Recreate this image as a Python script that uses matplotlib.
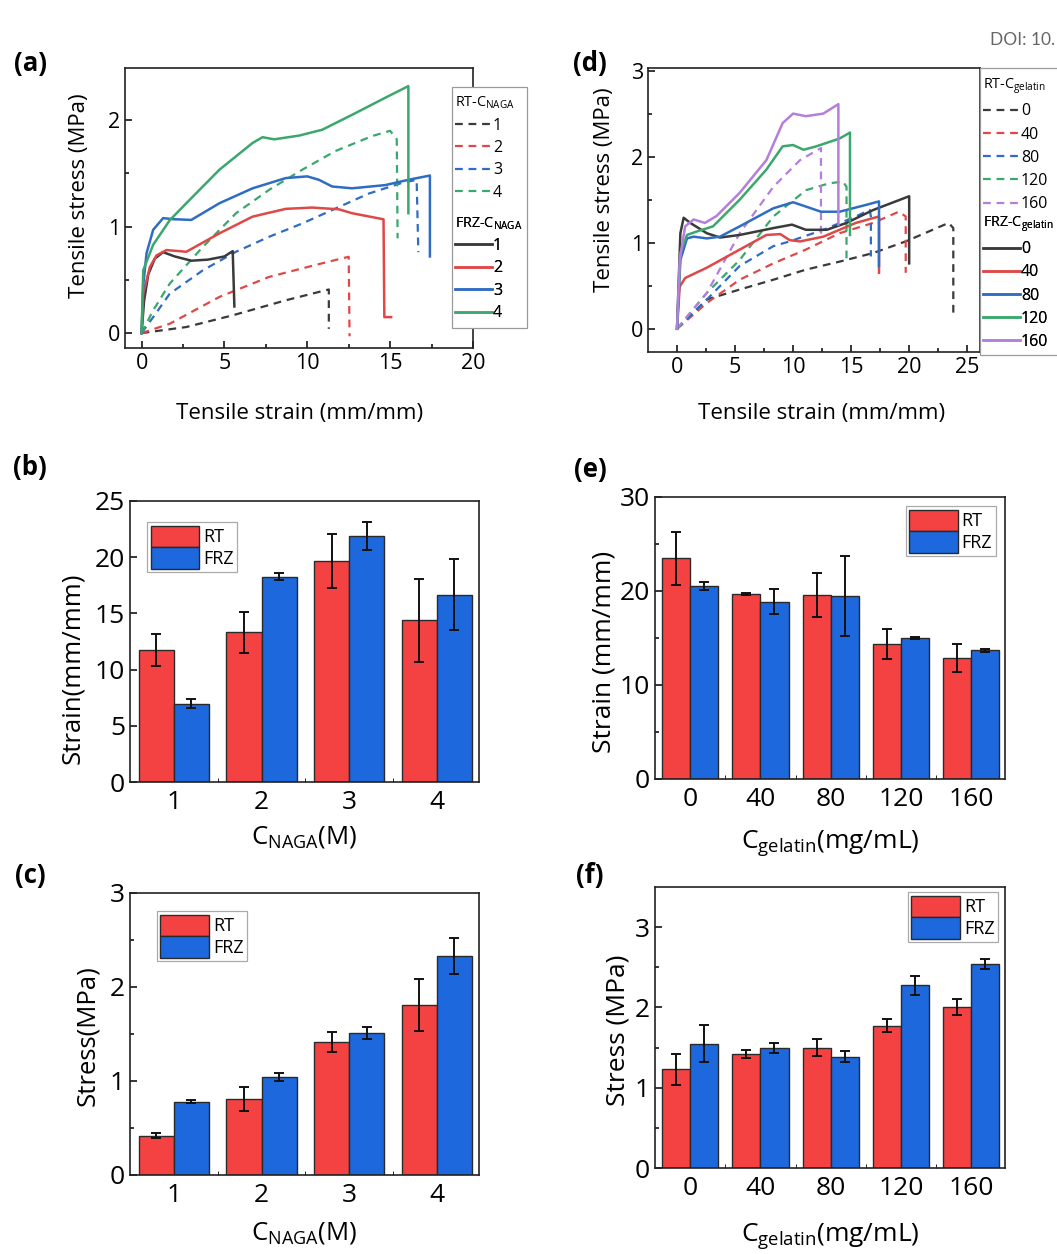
import matplotlib
matplotlib.use('Agg')
import matplotlib.pyplot as plt
from matplotlib.lines import Line2D
from matplotlib.patches import Rectangle
import numpy as np

plt.rcParams['font.family'] = ['Open Sans', 'DejaVu Sans']
plt.rcParams['mathtext.fontset'] = 'custom'
plt.rcParams['mathtext.rm'] = 'Open Sans'
plt.rcParams['mathtext.it'] = 'Open Sans:italic'
plt.rcParams['mathtext.bf'] = 'Open Sans:bold'
plt.rcParams['axes.linewidth'] = 1.2
plt.rcParams['axes.edgecolor'] = '#222222'

# ---------- data: panel (a) stress-strain curves, C_NAGA series ----------
naga_labels = ['1', '2', '3', '4']
rt_naga_x = [
    [0, 2.7, 5.5, 8.7, 11.3, 11.3],
    [0, 1.7, 4.7, 7.7, 10.7, 12.5, 12.55],
    [0, 0.7, 1.7, 3.7, 5.7, 7.7, 9.7, 11.7, 13.7, 15.7, 16.6, 16.7],
    [0, 0.7, 1.7, 3.7, 5.7, 7.7, 9.7, 11.7, 13.9, 15.0, 15.4, 15.45],
]
rt_naga_y = [
    [0, 0.057, 0.167, 0.308, 0.41, 0.04],
    [0, 0.088, 0.34, 0.528, 0.648, 0.717, -0.03],
    [0, 0.15, 0.37, 0.59, 0.764, 0.905, 1.03, 1.17, 1.31, 1.41, 1.44, 0.76],
    [0, 0.214, 0.465, 0.81, 1.126, 1.346, 1.535, 1.71, 1.85, 1.90, 1.82, 0.89],
]
frz_naga_x = [
    [0, 0.15, 0.4, 0.8, 1.3, 2.0, 3.0, 4.0, 5.0, 5.5, 5.6],
    [0, 0.1, 0.5, 0.9, 1.5, 2.7, 4.7, 6.7, 8.7, 10.3, 11.9, 12.7, 14.6, 14.65, 15.06],
    [0, 0.1, 0.3, 0.7, 1.3, 1.9, 3.0, 4.7, 6.7, 8.7, 10.0, 10.7, 11.5, 12.7, 14.7, 16.1, 17.4, 17.4],
    [0, 0.1, 0.7, 1.7, 2.7, 4.7, 6.7, 7.3, 8.0, 9.5, 10.9, 12.7, 14.7, 16.1, 16.1],
]
frz_naga_y = [
    [0, 0.3, 0.55, 0.7, 0.76, 0.72, 0.68, 0.69, 0.72, 0.77, 0.25],
    [0, 0.37, 0.62, 0.73, 0.78, 0.764, 0.937, 1.094, 1.167, 1.179, 1.163, 1.126, 1.069, 0.15, 0.15],
    [0, 0.45, 0.75, 0.97, 1.08, 1.07, 1.063, 1.22, 1.36, 1.456, 1.472, 1.44, 1.377, 1.36, 1.39, 1.44, 1.48, 0.72],
    [0, 0.59, 0.83, 1.06, 1.22, 1.535, 1.786, 1.84, 1.82, 1.855, 1.91, 2.05, 2.21, 2.32, 1.126],
]

# ---------- data: panel (d) stress-strain curves, C_gelatin series ----------
gel_labels = ['0', '40', '80', '120', '160']
rt_gel_x = [
    [0, 2.57, 5.4, 8.3, 11.1, 14.0, 16.9, 19.7, 23.4, 23.8, 23.8],
    [0, 2.57, 5.4, 8.3, 11.1, 14.0, 16.9, 19.1, 19.7, 19.7],
    [0, 2.57, 5.4, 8.3, 9.7, 12.6, 15.4, 16.6, 16.7, 16.7],
    [0, 2.57, 5.4, 8.3, 11.1, 13.1, 14.3, 14.6, 14.6],
    [0, 2.57, 5.4, 8.3, 10.6, 12.4, 12.4],
]
rt_gel_y = [
    [0, 0.34, 0.456, 0.57, 0.687, 0.78, 0.88, 1.015, 1.23, 1.17, 0.13],
    [0, 0.30, 0.57, 0.76, 0.92, 1.11, 1.23, 1.36, 1.305, 0.65],
    [0, 0.34, 0.73, 0.96, 1.015, 1.15, 1.305, 1.38, 1.305, 0.84],
    [0, 0.417, 0.80, 1.305, 1.61, 1.69, 1.71, 1.65, 0.80],
    [0, 0.417, 1.11, 1.65, 1.96, 2.10, 1.07],
]
frz_gel_x = [
    [0, 0.29, 0.57, 1.14, 2.57, 3.7, 5.4, 8.3, 9.9, 11.1, 12.9, 14.6, 16.9, 20.0, 20.0],
    [0, 0.23, 0.7, 2.57, 5.4, 7.7, 8.9, 9.7, 10.6, 12.6, 15.4, 17.4, 17.4],
    [0, 0.29, 0.86, 1.43, 2.57, 3.7, 5.4, 8.3, 10.0, 11.1, 12.4, 14.0, 16.3, 17.4, 17.4],
    [0, 0.29, 0.86, 1.7, 3.1, 5.4, 7.7, 9.1, 10.0, 10.9, 12.0, 14.0, 14.9, 14.9],
    [0, 0.23, 0.7, 1.43, 2.4, 3.4, 5.4, 7.7, 9.1, 10.0, 11.1, 12.6, 13.9, 13.9],
]
frz_gel_y = [
    [0, 1.11, 1.29, 1.23, 1.11, 1.06, 1.09, 1.17, 1.21, 1.15, 1.15, 1.23, 1.38, 1.54, 0.76],
    [0, 0.49, 0.59, 0.71, 0.92, 1.09, 1.10, 1.03, 1.015, 1.07, 1.23, 1.305, 0.65],
    [0, 0.80, 1.05, 1.07, 1.05, 1.07, 1.19, 1.40, 1.47, 1.42, 1.36, 1.36, 1.44, 1.48, 0.73],
    [0, 0.88, 1.09, 1.13, 1.19, 1.50, 1.85, 2.12, 2.135, 2.08, 2.12, 2.21, 2.28, 1.09],
    [0, 0.80, 1.19, 1.27, 1.23, 1.31, 1.58, 1.96, 2.39, 2.50, 2.47, 2.50, 2.61, 1.21],
]

# ---------- data: bar panels ----------
naga_cats = ['1', '2', '3', '4']
strain_naga_rt = [11.74, 13.31, 19.64, 14.38]
strain_naga_rt_err = [1.4, 1.8, 2.4, 3.7]
strain_naga_frz = [6.98, 18.25, 21.87, 16.67]
strain_naga_frz_err = [0.38, 0.3, 1.27, 3.15]

stress_naga_rt = [0.42, 0.81, 1.416, 1.807]
stress_naga_rt_err = [0.03, 0.125, 0.11, 0.28]
stress_naga_frz = [0.781, 1.04, 1.509, 2.332]
stress_naga_frz_err = [0.02, 0.045, 0.062, 0.19]

gel_cats = ['0', '40', '80', '120', '160']
strain_gel_rt = [23.47, 19.68, 19.57, 14.33, 12.84]
strain_gel_rt_err = [2.8, 0.1, 2.36, 1.6, 1.47]
strain_gel_frz = [20.5, 18.87, 19.47, 14.96, 13.69]
strain_gel_frz_err = [0.44, 1.3, 4.3, 0.1, 0.18]

stress_gel_rt = [1.227, 1.417, 1.50, 1.774, 2.01]
stress_gel_rt_err = [0.19, 0.05, 0.11, 0.085, 0.1]
stress_gel_frz = [1.546, 1.496, 1.388, 2.275, 2.545]
stress_gel_frz_err = [0.23, 0.06, 0.07, 0.12, 0.063]

# ---------- style ----------
line_colors = ['#3a3a3a', '#e04848', '#2f6cc4', '#3aa86c', '#b47edc']
red_bar = '#f44242'
blue_bar = '#1c68dc'
DASH = (3.5, 2.6)

W, H = 1057, 1254
fig = plt.figure(figsize=(W / 100, H / 100), dpi=100)


def px_axes(l, r, t, b):
    return fig.add_axes([l / W, 1 - b / H, (r - l) / W, (b - t) / H])


ax_a = px_axes(125, 473, 68, 348)
ax_d = px_axes(648, 980, 68, 352)
ax_b = px_axes(130, 479, 501, 782)
ax_c = px_axes(130, 479, 893, 1175)
ax_e = px_axes(655, 1005, 497, 779)
ax_f = px_axes(655, 1005, 887, 1168)


def curve_panel(ax, rx, ry, fx, fy, labels, group, box, rt_top, frz_top, fs_leg, spacing):
    for i in range(len(labels)):
        ax.plot(rx[i], ry[i], color=line_colors[i], lw=1.6, ls='--', dashes=DASH)
    for i in range(len(labels)):
        ax.plot(fx[i], fy[i], color=line_colors[i], lw=1.8)
    h_rt = [Line2D([], [], color=line_colors[i], lw=1.6, ls='--', dashes=DASH) for i in range(len(labels))]
    h_frz = [Line2D([], [], color=line_colors[i], lw=1.8) for i in range(len(labels))]
    kw = dict(loc='upper left', frameon=False, fontsize=fs_leg, title_fontsize=fs_leg - 1.2,
              alignment='left', handlelength=2.3, handletextpad=0.05, labelspacing=spacing,
              borderaxespad=0, borderpad=0.1)
    leg1 = ax.legend(h_rt, labels, title='RT-C$_{\\mathrm{' + group + '}}$',
                     bbox_to_anchor=(box[0] + 0.005, rt_top), **kw)
    ax.add_artist(leg1)
    leg2 = ax.legend(h_frz, labels, title='FRZ-C$_{\\mathrm{' + group + '}}$',
                     bbox_to_anchor=(box[0] + 0.005, frz_top), **kw)
    ax.add_artist(leg2)
    rect = Rectangle((box[0], box[1]), box[2], box[3], transform=ax.transAxes,
                     fc='white', ec='#9a9a9a', lw=0.9, clip_on=False, zorder=4)
    ax.add_patch(rect)
    leg1.set_zorder(6)
    leg2.set_zorder(6)
    ax.tick_params(which='both', direction='in', labelsize=15.5, width=1.1)
    ax.tick_params(which='major', length=5)
    ax.tick_params(which='minor', length=3)


# panel (a)
curve_panel(ax_a, rt_naga_x, rt_naga_y, frz_naga_x, frz_naga_y, naga_labels, 'NAGA',
            (0.94, 0.071, 0.215, 0.861), 0.91, 0.48, 11.5, 0.4)
ax_a.set_xlim(-1, 20)
ax_a.set_ylim(-0.14, 2.49)
ax_a.set_xticks([0, 5, 10, 15, 20])
ax_a.set_xticks([2.5, 7.5, 12.5, 17.5], minor=True)
ax_a.set_yticks([0, 1, 2])
ax_a.set_yticks([0.5, 1.5], minor=True)
ax_a.set_xlabel('Tensile strain (mm/mm)', fontsize=16)
ax_a.set_ylabel('Tensile stress (MPa)', fontsize=16)
ax_a.xaxis.set_label_coords(0.503, -0.196)
ax_a.yaxis.set_label_coords(-0.10, 0.545)

# panel (d)
curve_panel(ax_d, rt_gel_x, rt_gel_y, fx=frz_gel_x, fy=frz_gel_y, labels=gel_labels, group='gelatin',
            box=(1.0, -0.01, 0.26, 1.01), rt_top=0.975, frz_top=0.49, fs_leg=11.5, spacing=0.45)
ax_d.set_xlim(-2.5, 26.1)
ax_d.set_ylim(-0.27, 3.03)
ax_d.set_xticks([0, 5, 10, 15, 20, 25])
ax_d.set_xticks([2.5, 7.5, 12.5, 17.5, 22.5], minor=True)
ax_d.set_yticks([0, 1, 2, 3])
ax_d.set_yticks([0.5, 1.5, 2.5], minor=True)
ax_d.set_xlabel('Tensile strain (mm/mm)', fontsize=16)
ax_d.set_ylabel('Tensile stress (MPa)', fontsize=16)
ax_d.xaxis.set_label_coords(0.524, -0.18)
ax_d.yaxis.set_label_coords(-0.10, 0.57)


def bar_panel(ax, cats, rt, rt_err, frz, frz_err, leg_loc, leg_anchor):
    x = np.arange(1, len(cats) + 1)
    w = 0.4
    ek = dict(ecolor='#111111', elinewidth=1.4, capsize=3.5, capthick=1.4)
    ax.bar(x - w / 2, rt, w, yerr=rt_err, color=red_bar, edgecolor='#2a2a2a', lw=1.0,
           error_kw=ek, label='RT', zorder=2)
    ax.bar(x + w / 2, frz, w, yerr=frz_err, color=blue_bar, edgecolor='#2a2a2a', lw=1.0,
           error_kw=ek, label='FRZ', zorder=2)
    ax.set_xlim(0.5, len(cats) + 0.48)
    ax.set_xticks(x)
    ax.set_xticklabels(cats)
    ax.set_xticks(x[:-1] + 0.5, minor=True)
    ax.tick_params(axis='x', which='major', length=0, labelsize=19, pad=6)
    ax.tick_params(axis='x', which='minor', direction='in', length=3)
    ax.tick_params(axis='y', which='both', direction='in', labelsize=19, width=1.1)
    ax.tick_params(axis='y', which='major', length=5)
    ax.tick_params(axis='y', which='minor', length=3)
    leg = ax.legend(loc=leg_loc, bbox_to_anchor=leg_anchor, fontsize=13, handlelength=2.7,
                    handleheight=1.45, labelspacing=0.0, handletextpad=0.2, borderpad=0.2,
                    borderaxespad=0, fancybox=False, framealpha=1, edgecolor='#aaaaaa')
    leg.get_frame().set_linewidth(0.9)


naga_xlabel = 'C$_{\\mathrm{NAGA}}$(M)'
gel_xlabel = 'C$_{\\mathrm{gelatin}}$(mg/mL)'

# panel (b)
bar_panel(ax_b, naga_cats, strain_naga_rt, strain_naga_rt_err, strain_naga_frz, strain_naga_frz_err,
          'upper left', (0.049, 0.925))
ax_b.set_ylim(0, 25)
ax_b.set_yticks([0, 5, 10, 15, 20, 25])
ax_b.set_ylabel('Strain(mm/mm)', fontsize=18.5)
ax_b.set_xlabel(naga_xlabel, fontsize=18.5)
ax_b.yaxis.set_label_coords(-0.129, 0.405)
ax_b.xaxis.set_label_coords(0.5, -0.15)

# panel (c)
bar_panel(ax_c, naga_cats, stress_naga_rt, stress_naga_rt_err, stress_naga_frz, stress_naga_frz_err,
          'upper left', (0.077, 0.936))
ax_c.set_ylim(0, 3)
ax_c.set_yticks([0, 1, 2, 3])
ax_c.set_yticks([0.5, 1.5, 2.5], minor=True)
ax_c.set_ylabel('Stress(MPa)', fontsize=18.5)
ax_c.set_xlabel(naga_xlabel, fontsize=18.5)
ax_c.yaxis.set_label_coords(-0.086, 0.496)
ax_c.xaxis.set_label_coords(0.5, -0.16)

# panel (e)
bar_panel(ax_e, gel_cats, strain_gel_rt, strain_gel_rt_err, strain_gel_frz, strain_gel_frz_err,
          'upper right', (0.974, 0.968))
ax_e.set_ylim(0, 30)
ax_e.set_yticks([0, 10, 20, 30])
ax_e.set_yticks([5, 15, 25], minor=True)
ax_e.set_ylabel('Strain (mm/mm)', fontsize=19)
ax_e.set_xlabel(gel_xlabel, fontsize=19)
ax_e.yaxis.set_label_coords(-0.109, 0.45)
ax_e.xaxis.set_label_coords(0.5, -0.174)

# panel (f)
bar_panel(ax_f, gel_cats, stress_gel_rt, stress_gel_rt_err, stress_gel_frz, stress_gel_frz_err,
          'upper right', (0.98, 0.982))
ax_f.set_ylim(0, 3.5)
ax_f.set_yticks([0, 1, 2, 3])
ax_f.set_yticks([0.5, 1.5, 2.5], minor=True)
ax_f.set_ylabel('Stress (MPa)', fontsize=19)
ax_f.set_xlabel(gel_xlabel, fontsize=19)
ax_f.yaxis.set_label_coords(-0.071, 0.49)
ax_f.xaxis.set_label_coords(0.5, -0.19)

# panel letters
for lab, px, py in [('(a)', 30, 64), ('(b)', 30, 468), ('(c)', 30, 876),
                    ('(d)', 590, 64), ('(e)', 590, 470), ('(f)', 590, 876)]:
    fig.text(px / W, 1 - py / H, lab, fontsize=18.5, fontweight='bold', ha='center', va='center')

fig.text(1055 / W, 1 - 40 / H, 'DOI: 10.', fontsize=12.5, color='#666666', va='center', ha='right',
         family=['Lato', 'DejaVu Sans'])

fig.savefig('out.png', dpi=100)
